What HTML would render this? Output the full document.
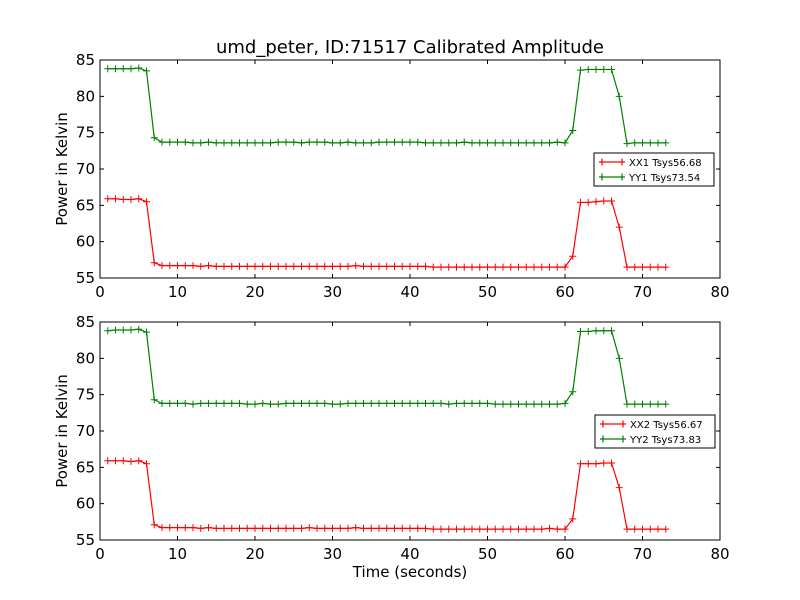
<!DOCTYPE html>
<html><head><meta charset="utf-8"><style>
html,body{margin:0;padding:0;background:#fff}
svg{display:block;font-family:"DejaVu Sans","Liberation Sans",sans-serif}
</style></head><body>
<svg id="chart" width="800" height="600" viewBox="0 0 800 600" xmlns="http://www.w3.org/2000/svg">
<rect width="800" height="600" fill="#fff"/>
<text x="410" y="53" font-size="18" text-anchor="middle">umd_peter, ID:71517 Calibrated Amplitude</text>
</svg>
<script>
const xTicks=[0,10,20,30,40,50,60,70,80];
const yTicks=[55,60,65,70,75,80,85];
const times=[1,2,3,4,5,6,7,8,9,10,11,12,13,14,15,16,17,18,19,20,21,22,23,24,25,26,27,28,29,30,31,32,33,34,35,36,37,38,39,40,41,42,43,44,45,46,47,48,49,50,51,52,53,54,55,56,57,58,59,60,61,62,63,64,65,66,67,68,69,70,71,72,73];
const xx1=[65.9,65.9,65.8,65.8,65.9,65.5,57.1,56.7,56.7,56.7,56.7,56.7,56.6,56.7,56.6,56.6,56.6,56.6,56.6,56.6,56.6,56.6,56.6,56.6,56.6,56.6,56.6,56.6,56.6,56.6,56.6,56.6,56.7,56.6,56.6,56.6,56.6,56.6,56.6,56.6,56.6,56.6,56.5,56.5,56.5,56.5,56.5,56.5,56.5,56.5,56.5,56.5,56.5,56.5,56.5,56.5,56.5,56.5,56.5,56.5,58.0,65.4,65.4,65.5,65.6,65.6,62.0,56.5,56.5,56.5,56.5,56.5,56.5];
const yy1=[83.8,83.8,83.8,83.8,83.9,83.5,74.3,73.7,73.7,73.7,73.7,73.6,73.6,73.7,73.6,73.6,73.6,73.6,73.6,73.6,73.6,73.6,73.7,73.7,73.7,73.6,73.7,73.7,73.7,73.6,73.6,73.7,73.6,73.6,73.6,73.7,73.7,73.7,73.7,73.7,73.7,73.6,73.6,73.6,73.6,73.6,73.7,73.6,73.6,73.6,73.6,73.6,73.6,73.6,73.6,73.6,73.6,73.6,73.7,73.6,75.3,83.6,83.7,83.7,83.7,83.7,80.0,73.5,73.6,73.6,73.6,73.6,73.6];
const xx2=[65.9,65.9,65.9,65.8,65.9,65.5,57.1,56.7,56.7,56.7,56.7,56.7,56.6,56.7,56.6,56.6,56.6,56.6,56.6,56.6,56.6,56.6,56.6,56.6,56.6,56.6,56.7,56.6,56.6,56.6,56.6,56.6,56.7,56.6,56.6,56.6,56.6,56.6,56.6,56.6,56.6,56.6,56.5,56.5,56.5,56.5,56.5,56.5,56.5,56.5,56.5,56.5,56.5,56.5,56.5,56.5,56.5,56.6,56.5,56.5,57.9,65.5,65.5,65.5,65.6,65.6,62.2,56.5,56.5,56.5,56.5,56.5,56.5];
const yy2=[83.8,83.9,83.9,83.9,84.0,83.6,74.3,73.8,73.8,73.8,73.8,73.7,73.8,73.8,73.8,73.8,73.8,73.8,73.7,73.7,73.8,73.7,73.7,73.8,73.8,73.8,73.8,73.8,73.8,73.7,73.7,73.8,73.8,73.8,73.8,73.8,73.8,73.8,73.8,73.8,73.8,73.8,73.8,73.8,73.7,73.8,73.8,73.8,73.8,73.8,73.7,73.7,73.7,73.7,73.7,73.7,73.7,73.7,73.7,73.8,75.4,83.7,83.7,83.8,83.8,83.8,80.0,73.7,73.7,73.7,73.7,73.7,73.7];
const labels1=["XX1 Tsys56.68","YY1 Tsys73.54"];
const labels2=["XX2 Tsys56.67","YY2 Tsys73.83"];

const svg=document.getElementById('chart');
const NS='http://www.w3.org/2000/svg';
function mk(tag,attrs,parent){const e=document.createElementNS(NS,tag);for(const k in attrs)e.setAttribute(k,attrs[k]);(parent||svg).appendChild(e);return e;}

function panel(top,bottom,red,green,labels,legTop,legLeft,idx,showXLabel){
  const L=100,R=720;
  const sx=v=>L+(v-0)/(80-0)*(R-L);
  const sy=v=>bottom-(v-55)/(85-55)*(bottom-top);
  const g=mk('g',{});
  
  
  const series=[[red,'#ff0000','xx'],[green,'#008000','yy']];
  series.forEach(([vals,col,nm])=>{
    let d='';
    vals.forEach((v,i)=>{d+=(i?'L':'M')+sx(times[i])+','+sy(v);});
    const p=mk('path',{d:d,fill:'none',stroke:col,'stroke-width':1.2},g);
    
    
    let md='';
    vals.forEach((v,i)=>{const x=sx(times[i]),y=sy(v);md+=`M${x-3.5},${y}h7M${x},${y-3.5}v7`;});
    const m=mk('path',{d:md,fill:'none',stroke:col,'stroke-width':1},g);
    
    
  });
  const fr=mk('rect',{x:L,y:top,width:R-L,height:bottom-top,fill:'none',stroke:'#000','stroke-width':1},g);
  
  
  xTicks.forEach(t=>{
    const x=sx(t);
    mk('path',{d:`M${x},${bottom}v-4M${x},${top}v4`,stroke:'#000','stroke-width':1},g);
    const tx=mk('text',{x:x,y:bottom+19,'font-size':15,'text-anchor':'middle'},g);
    
    
    tx.textContent=t;
  });
  yTicks.forEach(t=>{
    const y=sy(t);
    mk('path',{d:`M${L},${y}h4M${R},${y}h-4`,stroke:'#000','stroke-width':1},g);
    const tx=mk('text',{x:L-5,y:y+5,'font-size':15,'text-anchor':'end'},g);
    
    
    tx.textContent=t;
  });
  const yl=mk('text',{x:0,y:0,'font-size':15,'text-anchor':'middle',transform:`translate(67,${(top+bottom)/2}) rotate(-90)`},g);
  
  
  yl.textContent='Power in Kelvin';
  if(showXLabel){
    const xl=mk('text',{x:410,y:577,'font-size':15,'text-anchor':'middle'},g);
    
    
    xl.textContent='Time (seconds)';
  }
  const lg=mk('g',{},g);
  
  
  mk('rect',{x:legLeft,y:legTop,width:120,height:33,fill:'#fff',stroke:'#000','stroke-width':1},lg);
  [['#ff0000',labels[0]],['#008000',labels[1]]].forEach(([col,lab],i)=>{
    const y=legTop+9+i*15;
    mk('path',{d:`M${legLeft+5},${y}h26M${legLeft+8},${y-3.5}v7M${legLeft+28},${y-3.5}v7`,stroke:col,'stroke-width':1.2,fill:'none'},lg);
    const t=mk('text',{x:legLeft+35,y:y+4,'font-size':10},lg);
    
    
    t.textContent=lab;
  });
}
panel(60,278,xx1,yy1,labels1,153,594,1,false);
panel(322,540,xx2,yy2,labels2,415,595,2,true);
</script>
</body></html>
